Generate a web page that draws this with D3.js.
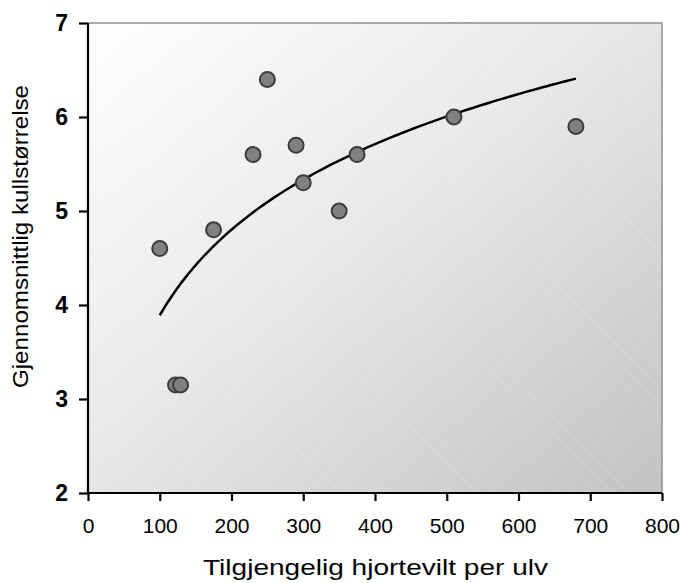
<!DOCTYPE html>
<html><head><meta charset="utf-8">
<script src="https://cdn.jsdelivr.net/npm/d3@7"></script>
<style>html,body{margin:0;padding:0;background:#fff;}svg{display:block;}</style>
</head><body>
<svg id="chart" width="682" height="583"></svg>
<script>
const preyPerWolf = [100, 122, 129, 175, 230, 250, 290, 300, 350, 375, 510, 680];
const litterSize  = [4.6, 3.15, 3.15, 4.8, 5.6, 6.4, 5.7, 5.3, 5.0, 5.6, 6.0, 5.9];
const xTicks = [0, 100, 200, 300, 400, 500, 600, 700, 800];
const yTicks = [2, 3, 4, 5, 6, 7];
const xTitle = "Tilgjengelig hjortevilt per ulv";
const yTitle = "Gjennomsnittlig kullstørrelse";

const svg = d3.select("#chart");
const L = 88, R = 662, T = 23, B = 493;
const x = d3.scaleLinear().domain([0, 800]).range([L, R]);
const y = d3.scaleLinear().domain([2, 7]).range([B, T]);

const defs = svg.append("defs");
const grad = defs.append("linearGradient").attr("id", "bg")
  .attr("x1", 0).attr("y1", 0).attr("x2", 1).attr("y2", 1);
grad.append("stop").attr("offset", "0%").attr("stop-color", "#ffffff");
grad.append("stop").attr("offset", "45%").attr("stop-color", "#e9e9e9");
grad.append("stop").attr("offset", "100%").attr("stop-color", "#c2c2c2");
const pat = defs.append("pattern").attr("id", "hatch").attr("patternUnits", "userSpaceOnUse")
  .attr("width", 12).attr("height", 12).attr("patternTransform", "rotate(-45)");
pat.append("line").attr("x1", 0).attr("y1", 0).attr("x2", 0).attr("y2", 12)
  .attr("stroke", "#ffffff").attr("stroke-width", 0.8).attr("stroke-opacity", 0.35);

svg.append("rect").attr("x", L).attr("y", T).attr("width", R - L).attr("height", B - T)
  .attr("fill", "url(#bg)");
svg.append("rect").attr("x", L).attr("y", T).attr("width", R - L).attr("height", B - T)
  .attr("fill", "url(#hatch)");
svg.append("path").attr("d", `M${L},${T}H${R}V${B}`).attr("fill", "none")
  .attr("stroke", "#8e8e8e").attr("stroke-width", 1.5);

// trendline: logarithmic least-squares fit of the data
const lx = preyPerWolf.map(Math.log);
const mx = d3.mean(lx), my = d3.mean(litterSize);
const b = d3.sum(lx, (v, i) => (v - mx) * (litterSize[i] - my)) / d3.sum(lx, v => (v - mx) ** 2);
const a = my - b * mx;
const [x0, x1] = d3.extent(preyPerWolf);
const curve = d3.range(0, 101).map(i => x0 + (x1 - x0) * i / 100);
svg.append("path").datum(curve)
  .attr("d", d3.line().x(d => x(d)).y(d => y(a + b * Math.log(d))))
  .attr("fill", "none").attr("stroke", "#000").attr("stroke-width", 2.5);

svg.append("g").selectAll("circle").data(preyPerWolf).join("circle")
  .attr("cx", d => x(d)).attr("cy", (d, i) => y(litterSize[i])).attr("r", 7.5)
  .attr("fill", "#808080").attr("stroke", "#3c3c3c").attr("stroke-width", 2);

const xAxis = svg.append("g").attr("transform", `translate(0,${B})`)
  .call(d3.axisBottom(x).tickValues(xTicks).tickSize(8).tickPadding(17).tickFormat(d3.format("d")));
const yAxis = svg.append("g").attr("transform", `translate(${L},0)`)
  .call(d3.axisLeft(y).tickValues(yTicks).tickSize(9).tickPadding(11).tickFormat(d3.format("d")));
[xAxis, yAxis].forEach(g => {
  g.select(".domain").attr("stroke", "#000").attr("stroke-width", 2.2);
  g.selectAll(".tick line").attr("stroke", "#000").attr("stroke-width", 2.2);
  g.selectAll("text").attr("fill", "#000").attr("font-family", "Liberation Sans, Arial, sans-serif");
});
xAxis.select(".domain").attr("d", `M${L},0H${R}`);
yAxis.select(".domain").attr("d", `M0,${T}V${B}`);
xAxis.selectAll("text").attr("font-size", 21);
yAxis.selectAll("text").attr("font-size", 23).attr("font-weight", "bold");

svg.append("text").attr("x", 375.5).attr("y", 575).attr("text-anchor", "middle")
  .attr("font-family", "Liberation Sans, Arial, sans-serif").attr("font-size", 22)
  .attr("textLength", 345).attr("lengthAdjust", "spacingAndGlyphs").text(xTitle);
svg.append("text").attr("transform", "translate(28,236.5) rotate(-90)").attr("text-anchor", "middle")
  .attr("font-family", "Liberation Sans, Arial, sans-serif").attr("font-size", 22.5)
  .attr("textLength", 303).attr("lengthAdjust", "spacingAndGlyphs").text(yTitle);
</script>
</body></html>
